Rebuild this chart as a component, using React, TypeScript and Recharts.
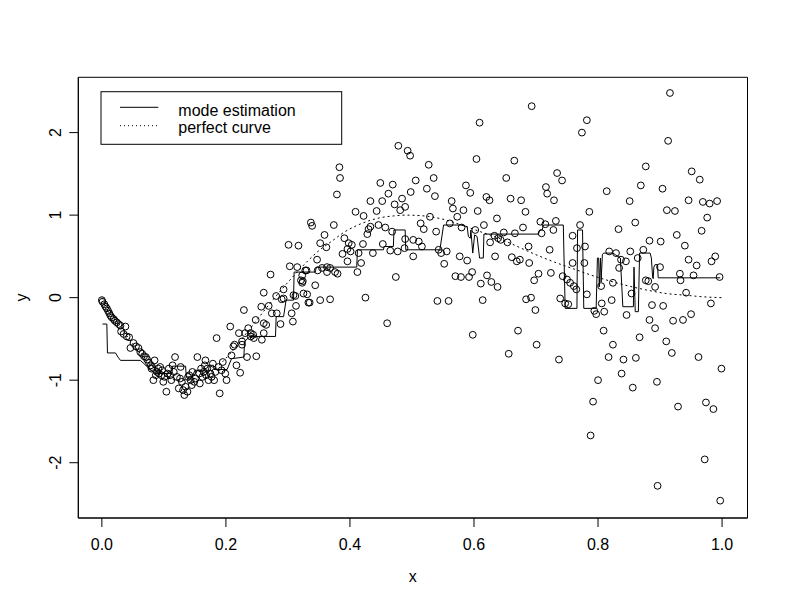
import { ComposedChart, Line, ReferenceArea, Scatter, XAxis, YAxis } from 'recharts';

// observed sample (x, y)
const obsPoints: [number, number][] = [
  [0.000, -0.03], [0.001, -0.05], [0.004, -0.08], [0.006, -0.11], [0.008, -0.13], [0.010, -0.16],
  [0.012, -0.19], [0.014, -0.22], [0.016, -0.24], [0.019, -0.26], [0.021, -0.28], [0.024, -0.30],
  [0.027, -0.32], [0.030, -0.34], [0.038, -0.35], [0.031, -0.41], [0.035, -0.44], [0.040, -0.47],
  [0.044, -0.48], [0.046, -0.61], [0.051, -0.55], [0.055, -0.59], [0.059, -0.61], [0.062, -0.66],
  [0.065, -0.68], [0.068, -0.71], [0.071, -0.72], [0.073, -0.75], [0.076, -0.79], [0.079, -0.82],
  [0.081, -0.84], [0.085, -0.76], [0.080, -0.86], [0.083, -1.00], [0.087, -0.94], [0.089, -0.90],
  [0.094, -0.84], [0.092, -0.92], [0.097, -0.88], [0.099, -1.02], [0.101, -0.96], [0.104, -1.14],
  [0.106, -0.92], [0.110, -0.94], [0.114, -0.82], [0.118, -0.72], [0.116, -0.90], [0.121, -0.96],
  [0.124, -1.10], [0.127, -0.84], [0.129, -1.02], [0.131, -1.12], [0.133, -1.18], [0.135, -1.08],
  [0.138, -1.14], [0.141, -0.94], [0.143, -1.00], [0.146, -0.90], [0.149, -1.02], [0.151, -0.98],
  [0.154, -0.72], [0.157, -0.92], [0.160, -0.86], [0.164, -0.90], [0.166, -0.82], [0.167, -0.76],
  [0.170, -0.86], [0.172, -1.00], [0.175, -0.92], [0.179, -0.80], [0.181, -1.00], [0.185, -0.49],
  [0.190, -1.16], [0.193, -0.88], [0.195, -0.78], [0.199, -0.92], [0.201, -1.00], [0.207, -0.35],
  [0.209, -0.70], [0.212, -0.59], [0.214, -0.57], [0.217, -0.82], [0.221, -0.43], [0.223, -0.91],
  [0.226, -0.53], [0.229, -0.15], [0.231, -0.43], [0.234, -0.72], [0.236, -0.37], [0.240, -0.47],
  [0.244, -0.45], [0.248, -0.27], [0.249, -0.71],
  [0.112, -1.00], [0.126, -0.98], [0.139, -0.96], [0.145, -1.06], [0.158, -1.04], [0.162, -0.96],
  [0.168, -0.94], [0.177, -0.96], [0.183, -0.90], [0.188, -0.84], [0.108, -0.86], [0.096, -0.94],
  [0.091, -0.86],
  [0.272, 0.28], [0.321, 0.21], [0.330, 0.33], [0.348, 0.33], [0.363, 0.31], [0.344, 0.15],
  [0.323, 0.18], [0.331, 0.04], [0.261, 0.06], [0.281, 0.02], [0.293, 0.10], [0.290, -0.02],
  [0.312, 0.02], [0.313, -0.10], [0.335, -0.06], [0.352, -0.03], [0.368, -0.02], [0.257, -0.11],
  [0.269, -0.10], [0.274, -0.19], [0.282, -0.19], [0.306, -0.19], [0.265, -0.33], [0.288, -0.32],
  [0.308, -0.29], [0.240, -0.43], [0.261, -0.43], [0.245, -0.49], [0.258, -0.51], [0.226, -0.57],
  [0.261, -0.31],
  [0.478, 1.84], [0.493, 1.78], [0.497, 1.72], [0.383, 1.58], [0.384, 1.45], [0.527, 1.61],
  [0.379, 1.25], [0.449, 1.39], [0.469, 1.37], [0.506, 1.42], [0.524, 1.32], [0.462, 1.26],
  [0.498, 1.28], [0.433, 1.17], [0.452, 1.17], [0.484, 1.20], [0.472, 1.13], [0.489, 1.10],
  [0.481, 1.06], [0.443, 1.05], [0.409, 1.04], [0.422, 0.99], [0.446, 0.88], [0.433, 0.86],
  [0.457, 0.85], [0.430, 0.83], [0.428, 0.77], [0.468, 0.80], [0.514, 0.90], [0.519, 0.83],
  [0.337, 0.91], [0.339, 0.87], [0.374, 0.88], [0.359, 0.76], [0.352, 0.66], [0.362, 0.61],
  [0.391, 0.72], [0.398, 0.66], [0.403, 0.64], [0.421, 0.65], [0.396, 0.59], [0.401, 0.56],
  [0.388, 0.53], [0.414, 0.54], [0.437, 0.54], [0.453, 0.65], [0.465, 0.57], [0.477, 0.56],
  [0.488, 0.60], [0.489, 0.71], [0.502, 0.70], [0.511, 0.68], [0.516, 0.62], [0.502, 0.50],
  [0.301, 0.64], [0.317, 0.63], [0.347, 0.46], [0.396, 0.44], [0.418, 0.42], [0.303, 0.38],
  [0.315, 0.37], [0.328, 0.33], [0.355, 0.36], [0.363, 0.37], [0.368, 0.36], [0.376, 0.31],
  [0.380, 0.29], [0.412, 0.31], [0.474, 0.25], [0.323, 0.27], [0.324, 0.20], [0.293, -0.01],
  [0.309, 0.03], [0.325, 0.05], [0.333, -0.06], [0.425, 0.00], [0.460, -0.31],
  [0.693, 2.32], [0.609, 2.12], [0.782, 2.15], [0.774, 2.00], [0.604, 1.68], [0.665, 1.66],
  [0.535, 1.45], [0.537, 1.23], [0.652, 1.45], [0.734, 1.51], [0.742, 1.42], [0.587, 1.36],
  [0.594, 1.27], [0.716, 1.34], [0.718, 1.26], [0.729, 1.18], [0.564, 1.17], [0.620, 1.22],
  [0.625, 1.18], [0.659, 1.20], [0.676, 1.18], [0.566, 1.08], [0.583, 1.06], [0.606, 1.05],
  [0.683, 1.04], [0.786, 1.04], [0.573, 0.98], [0.529, 0.98], [0.637, 0.96], [0.707, 0.92],
  [0.715, 0.89], [0.732, 0.93], [0.561, 0.90], [0.580, 0.85], [0.616, 0.88], [0.679, 0.85],
  [0.771, 0.88], [0.539, 0.80], [0.602, 0.82], [0.648, 0.79], [0.666, 0.78], [0.709, 0.78],
  [0.728, 0.82], [0.759, 0.75], [0.639, 0.72], [0.643, 0.70], [0.654, 0.67], [0.626, 0.67],
  [0.633, 0.75], [0.543, 0.58], [0.547, 0.54], [0.552, 0.41], [0.556, 0.56], [0.577, 0.50],
  [0.589, 0.45], [0.634, 0.50], [0.661, 0.49], [0.669, 0.44], [0.674, 0.46], [0.688, 0.62],
  [0.689, 0.42], [0.722, 0.58], [0.759, 0.42], [0.766, 0.60], [0.778, 0.42], [0.779, 0.62],
  [0.570, 0.26], [0.579, 0.25], [0.592, 0.25], [0.597, 0.31], [0.611, 0.17], [0.621, 0.27],
  [0.628, 0.19], [0.638, 0.13], [0.697, 0.21], [0.704, 0.29], [0.724, 0.30], [0.743, 0.26],
  [0.750, 0.22], [0.755, 0.18], [0.761, 0.14], [0.765, 0.10], [0.782, 0.04], [0.739, -0.01],
  [0.747, -0.07], [0.752, -0.08], [0.684, -0.02], [0.692, 0.00], [0.699, -0.15], [0.614, -0.03],
  [0.541, -0.04], [0.559, -0.04], [0.598, -0.45], [0.671, -0.40], [0.701, -0.57], [0.656, -0.68],
  [0.737, -0.75],
  [0.916, 2.48], [0.913, 1.90], [0.877, 1.59], [0.951, 1.53], [0.964, 1.43], [0.869, 1.36],
  [0.904, 1.32], [0.814, 1.29], [0.946, 1.18], [0.969, 1.16], [0.980, 1.14], [0.992, 1.17],
  [0.851, 1.17], [0.911, 1.06], [0.924, 1.05], [0.860, 0.91], [0.976, 0.97], [0.833, 0.83],
  [0.967, 0.81], [0.927, 0.76], [0.883, 0.69], [0.901, 0.68], [0.940, 0.63], [0.818, 0.56],
  [0.829, 0.54], [0.852, 0.56], [0.873, 0.58], [0.837, 0.46], [0.845, 0.44], [0.864, 0.48],
  [0.946, 0.46], [0.959, 0.39], [0.983, 0.44], [0.989, 0.50], [0.900, 0.37], [0.834, 0.36],
  [0.932, 0.29], [0.933, 0.21], [0.954, 0.27], [0.996, 0.25], [0.877, 0.21], [0.881, 0.20],
  [0.805, 0.14], [0.824, 0.18], [0.892, 0.13], [0.942, 0.06], [0.854, 0.05], [0.982, -0.07],
  [0.822, -0.03], [0.794, -0.16], [0.797, -0.20], [0.806, -0.07], [0.810, -0.17], [0.846, -0.21],
  [0.883, -0.27], [0.887, -0.09], [0.905, -0.10], [0.921, -0.28], [0.937, -0.27], [0.950, -0.20],
  [0.892, -0.37], [0.809, -0.40], [0.867, -0.48], [0.910, -0.53], [0.824, -0.57], [0.919, -0.67],
  [0.817, -0.72], [0.841, -0.75], [0.861, -0.73], [0.962, -0.72], [0.999, -0.86], [0.838, -0.92],
  [0.800, -1.00], [0.856, -1.09], [0.895, -1.02], [0.792, -1.26], [0.929, -1.32], [0.974, -1.27],
  [0.986, -1.35], [0.788, -1.67], [0.972, -1.96], [0.896, -2.28], [0.997, -2.46],
];

// mode estimate, joined point to point
const modeEstimate: [number, number][] = [
  [0.001, -0.32], [0.008, -0.32], [0.009, -0.67], [0.022, -0.67], [0.026, -0.72], [0.030, -0.76],
  [0.062, -0.76], [0.068, -0.80], [0.076, -0.86], [0.085, -0.92], [0.113, -0.92], [0.114, -0.83],
  [0.135, -0.83], [0.136, -0.96], [0.146, -0.96], [0.150, -0.88], [0.172, -0.88], [0.173, -0.82],
  [0.180, -0.82], [0.181, -0.87], [0.202, -0.87], [0.209, -0.74], [0.229, -0.72], [0.230, -0.53],
  [0.239, -0.47], [0.280, -0.47], [0.281, -0.23], [0.293, -0.23], [0.297, -0.03], [0.309, -0.03],
  [0.310, 0.31], [0.344, 0.31], [0.346, 0.37], [0.411, 0.37], [0.412, 0.58], [0.454, 0.58],
  [0.455, 0.62], [0.470, 0.62], [0.471, 0.82], [0.489, 0.82], [0.490, 0.58], [0.545, 0.58],
  [0.551, 0.88], [0.580, 0.88], [0.589, 0.86], [0.591, 0.74], [0.594, 0.72], [0.595, 0.82],
  [0.598, 0.54], [0.601, 0.76], [0.605, 0.74], [0.609, 0.48], [0.615, 0.48], [0.616, 0.77],
  [0.704, 0.77], [0.706, 0.82], [0.710, 0.82], [0.712, 0.88], [0.744, 0.88], [0.747, -0.13],
  [0.766, -0.13], [0.767, 0.82], [0.775, 0.82], [0.777, -0.13], [0.797, -0.13], [0.799, 0.48],
  [0.801, 0.48], [0.802, 0.13], [0.804, 0.48], [0.805, 0.19], [0.807, 0.52], [0.809, 0.54],
  [0.824, 0.54], [0.828, 0.52], [0.836, 0.48], [0.840, -0.11], [0.857, -0.11], [0.858, 0.37],
  [0.860, -0.17], [0.865, -0.17], [0.867, 0.54], [0.884, 0.54], [0.886, 0.48], [0.888, 0.25],
  [0.889, 0.23], [0.890, 0.37], [0.892, 0.40], [0.896, 0.40], [0.897, 0.24], [0.997, 0.24],
];

// true regression curve
const perfectCurve: [number, number][] = [
  [0.000, 0.00], [0.015, -0.18], [0.030, -0.35], [0.045, -0.51], [0.060, -0.66], [0.075, -0.79],
  [0.090, -0.89], [0.105, -0.96], [0.120, -1.00], [0.135, -1.00], [0.150, -0.98], [0.170, -0.92],
  [0.190, -0.81], [0.210, -0.65], [0.230, -0.46], [0.250, -0.27], [0.270, -0.08], [0.290, 0.10],
  [0.310, 0.27], [0.330, 0.43], [0.350, 0.57], [0.370, 0.68], [0.390, 0.79], [0.410, 0.87],
  [0.430, 0.93], [0.450, 0.97], [0.470, 0.99], [0.490, 1.00], [0.520, 0.99], [0.550, 0.95],
  [0.580, 0.88], [0.610, 0.80], [0.640, 0.72], [0.670, 0.62], [0.700, 0.52], [0.730, 0.43],
  [0.760, 0.35], [0.790, 0.27], [0.820, 0.20], [0.850, 0.14], [0.880, 0.09], [0.910, 0.05],
  [0.940, 0.03], [0.970, 0.01], [1.000, 0.00],
];

const xTicks = [0, 0.2, 0.4, 0.6, 0.8, 1];
const yTicks = [-2, -1, 0, 1, 2];
const legendLabels = ['mode estimation', 'perfect curve'];

const X_DOMAIN: [number, number] = [-0.038, 1.041];
const Y_DOMAIN: [number, number] = [-2.67, 2.67];
const FONT = '"Liberation Sans", Arial, sans-serif';

const toRows = (pts: [number, number][]) => pts.map(([x, y]) => ({ x, y }));

const Ring = (p: any) => (
  <circle cx={p.cx} cy={p.cy} r={3.4} fill="none" stroke="#000" strokeWidth={1} />
);

const XTick = ({ x, payload }: any) => (
  <text x={x} y={550} textAnchor="middle" fontSize={16} fontFamily={FONT} fill="#000">
    {Number(payload.value).toFixed(1)}
  </text>
);

const YTick = ({ y, payload }: any) => (
  <text
    x={61}
    y={y}
    transform={`rotate(-90 61 ${y})`}
    textAnchor="middle"
    fontSize={16}
    fontFamily={FONT}
    fill="#000"
  >
    {payload.value}
  </text>
);

export default function App() {
  return (
    <div style={{ position: 'absolute', left: 0, top: 0, width: 792, height: 611, background: '#fff' }}>
      <ComposedChart width={792} height={611} margin={{ top: 77.3, right: 44.5, bottom: 0, left: 0 }}>
        <XAxis
          type="number"
          dataKey="x"
          domain={X_DOMAIN}
          ticks={xTicks}
          interval={0}
          height={93}
          tickSize={9}
          stroke="#000"
          tick={XTick}
          allowDataOverflow
        />
        <YAxis
          type="number"
          dataKey="y"
          domain={Y_DOMAIN}
          ticks={yTicks}
          interval={0}
          width={78.3}
          tickSize={9}
          stroke="#000"
          tick={YTick}
          allowDataOverflow
        />
        <ReferenceArea
          x1={X_DOMAIN[0]}
          x2={X_DOMAIN[1]}
          y1={Y_DOMAIN[0]}
          y2={Y_DOMAIN[1]}
          fill="none"
          stroke="#000"
          strokeWidth={1}
          ifOverflow="visible"
        />
        <Scatter data={toRows(obsPoints)} shape={Ring} isAnimationActive={false} />
        <Line
          data={toRows(modeEstimate)}
          dataKey="y"
          type="linear"
          stroke="#000"
          strokeWidth={1}
          dot={false}
          isAnimationActive={false}
        />
        <Line
          data={toRows(perfectCurve)}
          dataKey="y"
          type="monotone"
          stroke="#000"
          strokeWidth={1}
          strokeDasharray="2 3"
          dot={false}
          isAnimationActive={false}
        />
      </ComposedChart>
      <svg
        width={792}
        height={611}
        style={{ position: 'absolute', left: 0, top: 0, pointerEvents: 'none' }}
        fontFamily={FONT}
        fontSize={16}
      >
        <text x={412.7} y={581.7} textAnchor="middle">x</text>
        <text x={26.6} y={297.6} transform="rotate(-90 26.6 297.6)" textAnchor="middle">y</text>
        <rect x={101} y={91.7} width={240.7} height={52.6} fill="#fff" stroke="#000" />
        <line x1={120} y1={107.3} x2={158.3} y2={107.3} stroke="#000" />
        <line x1={120} y1={125.7} x2={158.3} y2={125.7} stroke="#000" strokeDasharray="1 3" />
        <text x={178.3} y={115.5}>{legendLabels[0]}</text>
        <text x={178.3} y={132.5}>{legendLabels[1]}</text>
      </svg>
    </div>
  );
}
